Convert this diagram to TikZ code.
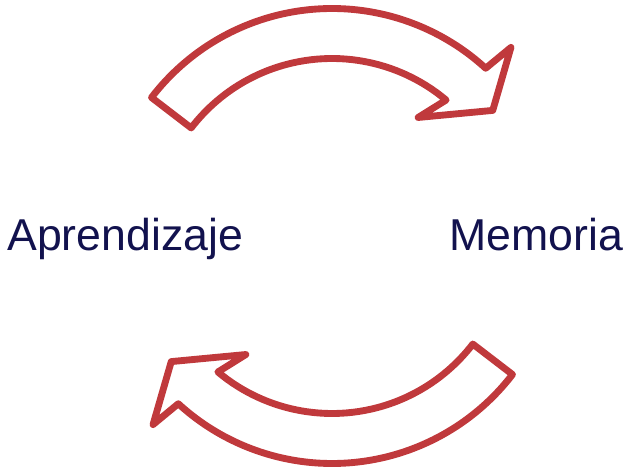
\documentclass[tikz,border=0pt]{standalone}
\usepackage{fontspec}
\setmainfont{Liberation Sans}
\definecolor{Cred}{RGB}{192,57,60}
\definecolor{Cnavy}{RGB}{18,18,78}
\tikzset{
  ring/.style={draw=Cred, fill=white, line width=3.9pt, line join=round},
  lbl/.style={text=Cnavy, inner sep=0pt,
    font=\fontsize{25.4}{30}\selectfont},
  bentarrow/.pic={
    \path[ring]
      (142.5:4.55) arc[start angle=142.5, end angle=47.5, radius=4.55]
      -- (46.5:5.2) -- (38:4.08) -- (54:2.93) -- (50:3.55)
      arc[start angle=50, end angle=142.5, radius=3.55] -- cycle;
  }
}

\begin{document}
\begin{tikzpicture}
\useasboundingbox (0,0) rectangle (12.5,-9.42);

% ─────────────────────────────────────────────────────────────────────────────
%  CYCLE  two bent arrows around a common centre
% ─────────────────────────────────────────────────────────────────────────────
\coordinate (O) at (6.64,-4.72);
\pic at (O) {bentarrow};
\pic[rotate=180] at (O) {bentarrow};

% ─────────────────────────────────────────────────────────────────────────────
%  LABELS
% ─────────────────────────────────────────────────────────────────────────────
\node[lbl, anchor=base west] (apr) at (0.14,-5.02) {Aprendizaje};
\node[lbl, anchor=base east] (mem) at (12.47,-5.02) {Memoria};

\end{tikzpicture}
\end{document}
